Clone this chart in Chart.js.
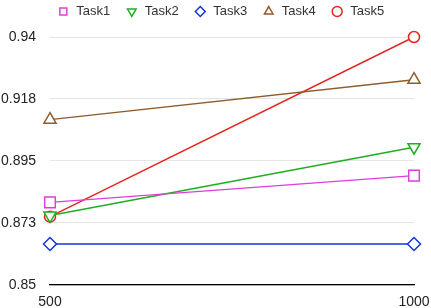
<!DOCTYPE html>
<html>
<head>
<meta charset="utf-8">
<script src="https://cdn.jsdelivr.net/npm/chart.js@4"></script>
<style>
  html, body { margin: 0; padding: 0; background: #fff; }
  #wrap { width: 431px; height: 308px; position: relative; }
</style>
</head>
<body>
<div id="wrap"><canvas id="myChart"></canvas></div>
<script>
// data
const labels = ['500', '1000'];
const task1 = [0.880, 0.8897];
const task2 = [0.8752, 0.900];
const task3 = [0.8649, 0.8649];
const task4 = [0.910, 0.9245];
const task5 = [0.8748, 0.940];
const yTicks = ['0.85', '0.873', '0.895', '0.918', '0.94'];

const fam = '"Liberation Sans", Arial, sans-serif';

function ds(label, data, color, style, radius, rot) {
  return {
    label: label,
    data: data,
    borderColor: color,
    backgroundColor: '#ffffff',
    borderWidth: 1.4,
    pointStyle: style,
    pointRadius: radius,
    pointHoverRadius: radius,
    pointRotation: rot || 0,
    pointBorderWidth: 1.5,
    pointBackgroundColor: '#ffffff',
    clip: false
  };
}

// legend: fixed box height, nudged up and right
const legendFix = {
  id: 'legendFix',
  beforeUpdate(chart) {
    const lg = chart.legend;
    if (lg && !lg._patched) {
      const fit = lg.fit;
      lg.fit = function () { fit.call(this); this.height = 37; };
      lg._patched = true;
    }
  },
  afterLayout(chart) {
    const lg = chart.legend;
    lg.top -= 10;
    lg.left += 5;
    lg.right += 5;
  }
};

const ctx = document.getElementById('myChart');

new Chart(ctx, {
  type: 'line',
  data: {
    labels: labels,
    datasets: [
      ds('Task1', task1, '#dd3ddd', 'rect', 7.5),
      ds('Task2', task2, '#1fae1f', 'triangle', 7, 180),
      ds('Task3', task3, '#1034dd', 'rectRot', 6.5),
      ds('Task4', task4, '#8f5b28', 'triangle', 7),
      ds('Task5', task5, '#e2261f', 'circle', 5.5)
    ]
  },
  options: {
    responsive: true,
    maintainAspectRatio: false,
    animation: false,
    layout: { padding: 0 },
    plugins: {
      legend: {
        position: 'top',
        labels: {
          usePointStyle: true,
          boxHeight: 7,
          padding: 15,
          color: '#333',
          font: { family: fam, size: 13 }
        }
      },
      tooltip: { enabled: false }
    },
    scales: {
      x: {
        type: 'category',
        offset: false,
        afterFit: function (s) { s.paddingRight = 17; s.paddingLeft = 0; s.height = 23; },
        grid: { display: false, drawTicks: false },
        border: { display: true, color: '#000', width: 1.2 },
        ticks: { color: '#222', padding: 9, font: { family: fam, size: 14 } }
      },
      y: {
        min: 0.85,
        max: 0.94,
        afterFit: function (s) { s.width = 50; },
        grid: { color: '#e5e5e5', drawTicks: false },
        border: { display: false },
        ticks: {
          stepSize: 0.0225,
          padding: 14,
          color: '#222',
          font: { family: fam, size: 14 },
          callback: function (v, i) { return yTicks[i]; }
        }
      }
    }
  },
  plugins: [legendFix]
});
</script>
</body>
</html>
